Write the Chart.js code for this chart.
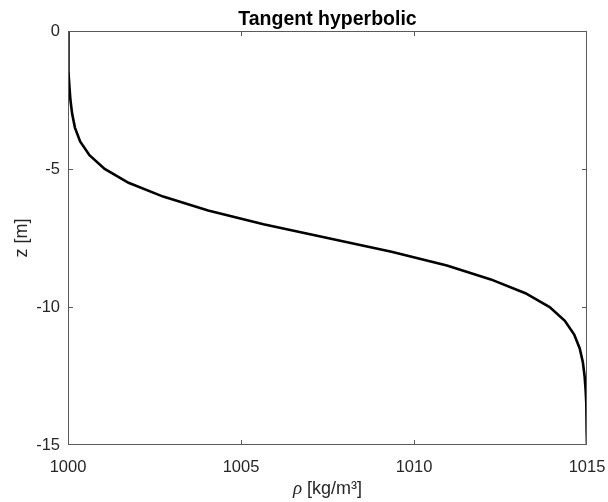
<!DOCTYPE html>
<html>
<head>
<meta charset="utf-8">
<script src="https://cdn.jsdelivr.net/npm/chart.js@4"></script>
<style>
  html, body { margin: 0; padding: 0; background: #fff; }
  #wrap { width: 608px; height: 502px; }
</style>
</head>
<body>
<div id="wrap"><canvas id="profile" width="608" height="502"></canvas></div>
<script>
// depth levels [m] and density [kg/m3] of the tanh profile
const depth = [0, -0.5, -1, -1.5, -2, -2.5, -3, -3.5, -4, -4.5, -5, -5.5, -6, -6.5, -7, -7.5,
               -8, -8.5, -9, -9.5, -10, -10.5, -11, -11.5, -12, -12.5, -13, -13.5, -14, -14.5, -15];
const density = [1000.00, 1000.01, 1000.01, 1000.02, 1000.04, 1000.07, 1000.12, 1000.20, 1000.35, 1000.62,
                 1001.06, 1001.75, 1002.75, 1004.05, 1005.65, 1007.50, 1009.35, 1010.95, 1012.22, 1013.22,
                 1013.92, 1014.36, 1014.63, 1014.79, 1014.88, 1014.93, 1014.96, 1014.98, 1014.99, 1014.99, 1015.00];
const xTicks = [1000, 1005, 1010, 1015];
const yTicks = [-15, -10, -5, 0];

const axisColor = '#262626';
const sans = '"Liberation Sans", Arial, Helvetica, sans-serif';
const serifItalic = 'italic 19px "Liberation Serif", "Times New Roman", serif';

// box around the axes, inward ticks, title and x label
const boxPlugin = {
    id: 'matlabBox',
    afterDraw(chart) {
        const { ctx, chartArea: a, scales } = chart;
        ctx.save();
        ctx.strokeStyle = '#5a5a5a';
        ctx.lineWidth = 1;
        ctx.strokeRect(a.left + 0.5, a.top + 0.5, a.right - a.left - 1, a.bottom - a.top - 1);

        const tl = 5;
        ctx.beginPath();
        xTicks.slice(1, -1).forEach(v => {
            const px = Math.round(scales.x.getPixelForValue(v)) + 0.5;
            ctx.moveTo(px, a.bottom); ctx.lineTo(px, a.bottom - tl);
            ctx.moveTo(px, a.top); ctx.lineTo(px, a.top + tl);
        });
        yTicks.slice(1, -1).forEach(v => {
            const py = Math.round(scales.y.getPixelForValue(v)) + 0.5;
            ctx.moveTo(a.left, py); ctx.lineTo(a.left + tl, py);
            ctx.moveTo(a.right, py); ctx.lineTo(a.right - tl, py);
        });
        ctx.stroke();

        const cx = (a.left + a.right) / 2;
        ctx.fillStyle = '#000';
        ctx.textAlign = 'center';
        ctx.textBaseline = 'alphabetic';
        ctx.font = 'bold 19.5px ' + sans;
        ctx.fillText('Tangent hyperbolic', cx, 25);

        // x label: italic rho followed by the unit
        const rho = 'ρ', unit = ' [kg/m³]';
        ctx.fillStyle = axisColor;
        ctx.font = serifItalic;
        const w1 = ctx.measureText(rho).width;
        ctx.font = '18px ' + sans;
        const w2 = ctx.measureText(unit).width;
        const x0 = cx - (w1 + w2) / 2;
        ctx.textAlign = 'left';
        ctx.font = serifItalic;
        ctx.fillText(rho, x0, 494);
        ctx.font = '18px ' + sans;
        ctx.fillText(unit, x0 + w1, 494);
        ctx.restore();
    }
};

const ctx = document.getElementById('profile').getContext('2d');
new Chart(ctx, {
    type: 'scatter',
    data: {
        datasets: [{
            data: density.map((r, i) => ({ x: r, y: depth[i] })),
            showLine: true,
            borderColor: '#000',
            borderWidth: 2.6,
            pointRadius: 0,
            tension: 0,
            fill: false
        }]
    },
    options: {
        responsive: false,
        animation: false,
        devicePixelRatio: 1,
        layout: { padding: { top: 31, right: 21, left: 0, bottom: 0 } },
        plugins: {
            legend: { display: false },
            tooltip: { enabled: false }
        },
        scales: {
            x: {
                type: 'linear',
                min: 1000,
                max: 1015,
                afterBuildTicks: s => { s.ticks = xTicks.map(v => ({ value: v })); },
                grid: { display: false, drawTicks: false },
                border: { display: false },
                ticks: {
                    color: axisColor,
                    font: { family: sans, size: 16.5 },
                    padding: 13,
                    maxRotation: 0,
                    callback: v => String(v)
                },
                afterFit: s => { s.height = 57; s.paddingLeft = 0; s.paddingRight = 0; }
            },
            y: {
                type: 'linear',
                min: -15,
                max: 0,
                afterBuildTicks: s => { s.ticks = yTicks.map(v => ({ value: v })); },
                grid: { display: false, drawTicks: false },
                border: { display: false },
                ticks: {
                    color: axisColor,
                    font: { family: sans, size: 16.5 },
                    padding: 8,
                    callback: v => String(v)
                },
                title: {
                    display: true,
                    text: 'z [m]',
                    color: axisColor,
                    font: { family: sans, size: 18 },
                    padding: { top: 11, bottom: 0 }
                },
                afterFit: s => { s.width = 68; s.paddingTop = 0; s.paddingBottom = 0; }
            }
        }
    },
    plugins: [boxPlugin]
});
</script>
</body>
</html>
